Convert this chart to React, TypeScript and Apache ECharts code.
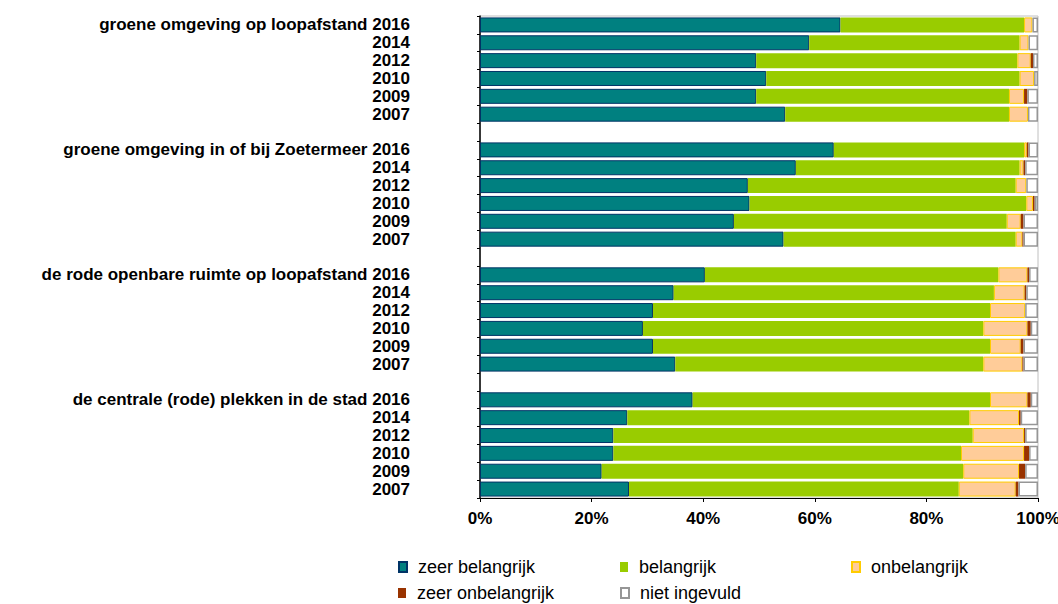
import React, { useEffect, useRef } from 'react';
import * as echarts from 'echarts';

const groups = [
  'groene omgeving op loopafstand',
  'groene omgeving in of bij Zoetermeer',
  'de rode openbare ruimte op loopafstand',
  'de centrale (rode) plekken in de stad',
];
const years = ['2016', '2014', '2012', '2010', '2009', '2007'];
const seriesNames = ['zeer belangrijk', 'belangrijk', 'onbelangrijk', 'zeer onbelangrijk', 'niet ingevuld'];
const xTicks = [0, 20, 40, 60, 80, 100];

// values per series, 4 groups x 6 years (2016..2007)
const zeerBelangrijk = [
  64.6, 59.0, 49.5, 51.3, 49.5, 54.7,
  63.4, 56.6, 48.0, 48.3, 45.5, 54.4,
  40.3, 34.7, 31.0, 29.2, 31.0, 35.0,
  38.1, 26.4, 23.9, 23.9, 21.8, 26.7,
];
const belangrijk = [
  32.9, 37.7, 46.8, 45.4, 45.3, 40.1,
  34.1, 40.1, 48.0, 49.6, 48.9, 41.6,
  52.6, 57.4, 60.4, 61.0, 60.4, 55.2,
  53.3, 61.3, 64.4, 62.3, 64.8, 59.1,
];
const onbelangrijk = [
  1.5, 1.6, 2.4, 2.6, 2.7, 3.4,
  0.5, 0.7, 1.9, 1.2, 2.5, 1.2,
  5.2, 5.5, 6.3, 7.9, 5.5, 7.0,
  6.7, 8.9, 9.2, 11.3, 10.0, 10.2,
];
const zeerOnbelangrijk = [
  0, 0, 0.4, 0, 0.6, 0,
  0.3, 0.3, 0, 0.3, 0.5, 0.2,
  0.3, 0.3, 0, 0.6, 0.5, 0.2,
  0.6, 0.3, 0.2, 0.9, 1.1, 0.5,
];
const nietIngevuld = [
  1.0, 1.7, 0.9, 0.7, 1.9, 1.8,
  1.7, 2.3, 2.1, 0.6, 2.6, 2.6,
  1.6, 2.1, 2.3, 1.3, 2.6, 2.6,
  1.3, 3.1, 2.3, 1.6, 2.3, 3.5,
];

const seriesValues = [zeerBelangrijk, belangrijk, onbelangrijk, zeerOnbelangrijk, nietIngevuld];

const styles = [
  { color: '#008080', borderColor: '#003366', borderWidth: 1 },
  { color: '#99CC00', borderColor: '#99CC00', borderWidth: 0 },
  { color: '#FFCC99', borderColor: '#FFCC00', borderWidth: 1 },
  { color: '#993300', borderColor: '#993300', borderWidth: 0 },
  { color: '#FFFFFF', borderColor: '#969696', borderWidth: 1.5 },
];

// build category slots (with an empty slot between groups)
const catKeys: string[] = [];
const catLabels: string[] = [];
const slotIndex: number[] = []; // data index or -1
groups.forEach((g, gi) => {
  years.forEach((y, yi) => {
    catKeys.push(`c${gi}-${yi}`);
    catLabels.push(yi === 0 ? `${g} ${y}` : y);
    slotIndex.push(gi * years.length + yi);
  });
  if (gi < groups.length - 1) {
    catKeys.push(`gap${gi}`);
    catLabels.push('');
    slotIndex.push(-1);
  }
});

const FONT = "'Liberation Sans', Arial, sans-serif";

const legendPos = [
  { left: 398, top: 558 },
  { left: 620, top: 558 },
  { left: 851, top: 558 },
  { left: 398, top: 584 },
  { left: 620, top: 584 },
];

export default function App() {
  const ref = useRef<HTMLDivElement>(null);
  useEffect(() => {
    const chart = echarts.init(ref.current!, null, { renderer: 'svg' });
    const option: any = {
      animation: false,
      backgroundColor: '#ffffff',
      grid: {
        left: 480,
        width: 558,
        top: 16,
        height: 482,
        outerBoundsMode: 'none',
        containLabel: false,
        show: true,
        borderColor: '#c0c0c0',
        borderWidth: 1,
        backgroundColor: 'transparent',
      },
      legend: seriesNames.map((n, i) => ({
        data: [n],
        left: legendPos[i].left,
        top: legendPos[i].top,
        padding: 0,
        itemWidth: 8,
        itemHeight: 10,
        selectedMode: false,
        icon: 'rect',
        textStyle: {
          fontFamily: FONT,
          fontSize: 18,
          color: '#000',
          padding: [0, 0, 0, 6],
        },
      })),
      xAxis: {
        type: 'value',
        min: xTicks[0],
        max: xTicks[xTicks.length - 1],
        interval: xTicks[1] - xTicks[0],
        splitLine: { show: false },
        axisLine: { show: true, lineStyle: { color: '#000', width: 1 } },
        axisTick: { show: true, length: 4, inside: false, lineStyle: { color: '#000' } },
        axisLabel: {
          formatter: '{value}%',
          fontFamily: FONT,
          fontWeight: 'bold',
          fontSize: 17,
          color: '#000',
          margin: 12,
        },
      },
      yAxis: {
        type: 'category',
        inverse: true,
        data: catKeys,
        axisLine: { show: true, lineStyle: { color: '#000', width: 1.5 } },
        axisTick: { show: true, length: 3, inside: false, lineStyle: { color: '#000' } },
        axisLabel: {
          interval: 0,
          margin: 70,
          fontFamily: FONT,
          fontWeight: 'bold',
          fontSize: 17,
          lineHeight: 17,
          color: '#000',
          formatter: (_v: string, idx: number) => catLabels[idx],
        },
      },
      series: seriesNames.map((name, si) => ({
        name,
        type: 'bar',
        stack: 'total',
        barCategoryGap: '16%',
        itemStyle: styles[si],
        emphasis: { disabled: true },
        data: slotIndex.map((di) => (di < 0 ? '-' : seriesValues[si][di])),
      })),
    };
    chart.setOption(option);
    return () => chart.dispose();
  }, []);
  return (
    <div
      ref={ref}
      style={{ position: 'fixed', left: 0, top: 0, width: 1058, height: 604, background: '#fff' }}
    />
  );
}
